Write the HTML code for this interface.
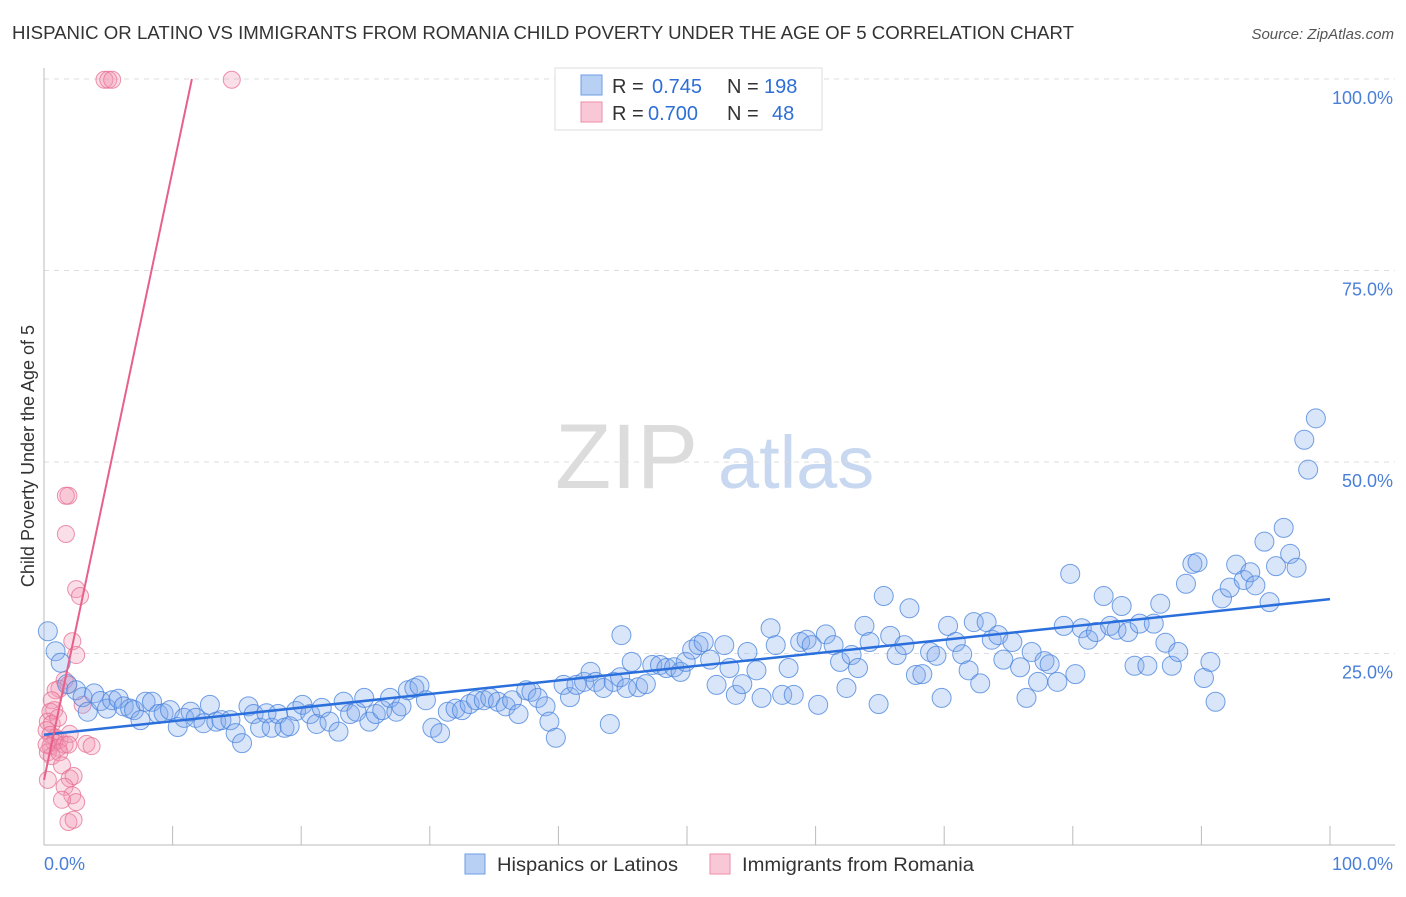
<!DOCTYPE html>
<html><head><meta charset="utf-8">
<style>
body{margin:0;background:#fff;font-family:"Liberation Sans",sans-serif;}
svg text{font-family:"Liberation Sans",sans-serif;}
</style></head>
<body>
<svg id="chart" width="1406" height="892" xmlns="http://www.w3.org/2000/svg">
<text x="12" y="39" font-size="18" fill="#333" textLength="1062" lengthAdjust="spacingAndGlyphs">HISPANIC OR LATINO VS IMMIGRANTS FROM ROMANIA CHILD POVERTY UNDER THE AGE OF 5 CORRELATION CHART</text>
<text x="1394" y="39" font-size="15" fill="#555" font-style="italic" text-anchor="end">Source: ZipAtlas.com</text>
<g>
<text x="555" y="488" font-size="92" fill="#dcdcdc" font-family="Liberation Serif, serif">ZIP</text>
<text x="718" y="488" font-size="74" fill="#c8d8f0">atlas</text>
</g>
<g id="grid"></g>
<g id="axes"></g>
<g id="pts"></g>
<g id="lines"></g>
<text transform="translate(34,456) rotate(-90)" font-size="18" fill="#333" text-anchor="middle">Child Poverty Under the Age of 5</text>
<g>
<rect x="555" y="68" width="267" height="62" fill="#fff" stroke="#ddd"/>
<rect x="581" y="75" width="21" height="20" fill="#b8d0f4" stroke="#6e9ee6"/>
<rect x="581" y="102" width="21" height="20" fill="#f9c8d6" stroke="#ee8eab"/>
<text x="612" y="93" font-size="20" fill="#333">R = </text><text x="652" y="93" font-size="20" fill="#2d6fd6">0.745</text>
<text x="727" y="93" font-size="20" fill="#333">N = </text><text x="764" y="93" font-size="20" fill="#2d6fd6">198</text>
<text x="612" y="120" font-size="20" fill="#333">R = </text><text x="648" y="120" font-size="20" fill="#2d6fd6">0.700</text>
<text x="727" y="120" font-size="20" fill="#333">N = </text><text x="772" y="120" font-size="20" fill="#2d6fd6">48</text>
</g>
<g>
<rect x="465" y="854" width="20" height="20" fill="#b8d0f4" stroke="#6e9ee6"/>
<text x="497" y="871" font-size="19" fill="#333" textLength="181" lengthAdjust="spacingAndGlyphs">Hispanics or Latinos</text>
<rect x="710" y="854" width="20" height="20" fill="#f9c8d6" stroke="#ee8eab"/>
<text x="742" y="871" font-size="19" fill="#333" textLength="232" lengthAdjust="spacingAndGlyphs">Immigrants from Romania</text>
</g>
</svg>
<script>
const yTicks=[25,50,75,100];
const yTickLabels=["25.0%","50.0%","75.0%","100.0%"];
const xTicks=[0,10,20,30,40,50,60,70,80,90,100];
const blueX=[0.3,0.9,1.3,1.8,2.5,3.0,3.4,3.9,4.4,4.9,5.3,5.8,6.2,6.7,7.0,7.5,7.9,8.4,8.9,9.3,9.8,10.4,10.9,11.4,11.8,12.4,12.9,13.4,13.8,14.5,14.9,15.4,15.9,16.3,16.8,17.3,17.7,18.2,18.7,19.1,19.6,20.1,20.7,21.2,21.6,22.2,22.9,23.3,23.8,24.3,24.9,25.3,25.8,26.3,26.9,27.4,27.8,28.3,28.8,29.2,29.7,30.2,30.8,31.4,32.0,32.5,33.1,33.6,34.2,34.7,35.3,35.9,36.4,36.9,37.5,37.9,38.4,39.0,39.3,39.8,40.4,40.9,41.4,42.0,42.5,42.9,43.5,44.0,44.3,44.8,45.3,45.7,44.9,46.2,46.8,47.3,47.9,48.4,49.0,49.5,49.9,50.4,50.9,51.3,51.8,52.3,52.9,53.3,53.8,54.3,54.7,55.4,55.8,56.5,56.9,57.4,57.9,58.3,58.8,59.3,59.7,60.2,60.8,61.4,61.9,62.4,62.8,63.3,63.8,64.2,64.9,65.3,65.8,66.3,66.9,67.3,67.8,68.3,68.9,69.4,69.8,70.3,70.9,71.4,71.9,72.3,72.8,73.3,73.7,74.2,74.6,75.3,75.9,76.4,76.8,77.3,77.8,78.2,78.8,79.3,79.8,80.2,80.7,81.2,81.8,82.4,82.9,83.4,83.8,84.3,84.8,85.2,85.8,86.3,86.8,87.2,87.7,88.2,88.8,89.3,89.7,90.2,90.7,91.1,91.6,92.2,92.7,93.3,93.8,94.2,94.9,95.3,95.8,96.4,96.9,97.4,98.0,98.3,98.9];
const blueY=[27.9,25.3,23.8,21.0,20.2,19.3,17.4,19.8,18.8,17.8,18.9,19.1,18.1,17.8,17.6,16.3,18.7,18.7,17.1,17.2,17.6,15.4,16.6,17.4,16.6,15.9,18.3,16.1,16.3,16.3,14.6,13.3,18.1,17.1,15.3,17.2,15.3,17.1,15.3,15.5,17.5,18.3,17.1,15.8,17.9,16.1,14.8,18.7,17.1,17.4,19.2,16.1,17.1,17.6,19.2,17.4,18.1,20.2,20.5,20.8,18.9,15.3,14.6,17.4,17.8,17.6,18.4,18.9,18.9,19.2,18.7,18.1,18.9,17.1,20.2,20.0,19.2,18.1,16.1,14.0,20.9,19.3,20.9,21.3,22.6,21.3,20.5,15.8,21.3,21.9,20.5,23.9,27.4,20.6,21.0,23.5,23.5,23.1,23.2,22.6,23.9,25.5,26.1,26.5,24.2,20.9,26.1,23.1,19.6,21.0,25.2,22.8,19.2,28.3,26.1,19.6,23.1,19.6,26.5,26.8,26.1,18.3,27.5,26.1,23.9,20.5,24.8,23.1,28.6,26.5,18.4,32.5,27.3,24.8,26.1,30.9,22.2,22.3,25.2,24.7,19.2,28.6,26.5,24.9,22.8,29.1,21.1,29.1,26.8,27.4,24.2,26.5,23.2,19.2,25.2,21.3,24.0,23.6,21.3,28.6,35.4,22.3,28.3,26.8,27.8,32.5,28.6,28.1,31.2,27.8,23.4,28.9,23.4,28.9,31.5,26.4,23.4,25.2,34.1,36.7,36.9,21.8,23.9,18.7,32.2,33.6,36.6,34.6,35.6,33.9,39.6,31.7,36.4,41.4,38.0,36.2,52.9,49.0,55.7];
const pinkX=[4.7,5.0,5.3,14.6,1.9,1.7,1.7,2.5,2.8,2.2,2.5,1.6,1.9,1.2,0.9,0.6,0.5,0.8,0.3,0.6,0.2,0.5,0.9,1.2,0.8,0.5,1.1,1.6,0.3,0.6,1.2,2.0,1.9,3.3,3.7,1.4,2.0,2.3,1.6,2.2,2.5,1.4,1.9,2.3,0.3,1.1,3.0,0.2];
const pinkY=[99.9,99.9,99.9,99.9,45.6,45.6,40.6,33.4,32.5,26.6,24.8,21.5,20.9,20.4,20.2,18.9,17.4,17.6,16.1,15.8,15.0,14.4,14.0,13.7,13.4,12.9,12.7,13.1,12.1,11.6,12.1,14.5,13.1,13.2,12.9,10.4,8.7,9.0,7.6,6.5,5.6,5.9,3.0,3.3,8.5,16.6,18.3,13.1];
const blueFit=[14.4,32.1];   // y at x=0, y at x=100
const pinkFit=[8.5,11.5];    // y at x=0, x where y=100
const NS="http://www.w3.org/2000/svg";
const X0=44,X1=1330,Y0=845,Y100=79;
const sx=v=>X0+(X1-X0)*v/100;
const sy=v=>Y0-(Y0-Y100)*v/100;
function mk(tag,attrs,parent){const e=document.createElementNS(NS,tag);for(const k in attrs)e.setAttribute(k,attrs[k]);parent.appendChild(e);return e;}
const grid=document.getElementById('grid'),axes=document.getElementById('axes'),pts=document.getElementById('pts'),lines=document.getElementById('lines');
yTicks.forEach((t,i)=>{
 const l=mk('line',{x1:X0,x2:1395,y1:sy(t),y2:sy(t),stroke:'#ddd','stroke-dasharray':'5,5'},grid);
 
 
 const tx=mk('text',{x:1393,y:sy(t)+25,'font-size':18,fill:'#4a7fd8','text-anchor':'end'},grid);
 tx.textContent=yTickLabels[i];
 
 
});
const ya=mk('line',{x1:X0,x2:X0,y1:68,y2:Y0,stroke:'#bbb'},axes);


const xa=mk('line',{x1:X0,x2:1395,y1:Y0,y2:Y0,stroke:'#bbb'},axes);


xTicks.slice(1).forEach(t=>{
 const l=mk('line',{x1:sx(t),x2:sx(t),y1:826,y2:Y0,stroke:'#bbb'},axes);
 
 
});
const xl0=mk('text',{x:44,y:870,'font-size':18,fill:'#4a7fd8'},axes);xl0.textContent='0.0%';


const xl1=mk('text',{x:1393,y:870,'font-size':18,fill:'#4a7fd8','text-anchor':'end'},axes);xl1.textContent='100.0%';


pinkX.forEach((v,i)=>{
 const c=mk('circle',{cx:sx(v),cy:sy(pinkY[i]),r:8.5,fill:'rgba(243,150,178,0.3)',stroke:'rgba(230,110,145,0.75)','stroke-width':1},pts);
 
 
});
blueX.forEach((v,i)=>{
 const c=mk('circle',{cx:sx(v),cy:sy(blueY[i]),r:9.5,fill:'rgba(130,170,235,0.3)',stroke:'rgba(70,130,220,0.75)','stroke-width':1},pts);
 
 
});
const bl=mk('line',{x1:sx(0),y1:sy(blueFit[0]),x2:sx(100),y2:sy(blueFit[1]),stroke:'#2a6fdb','stroke-width':2.5},lines);


const pl=mk('line',{x1:sx(0),y1:sy(pinkFit[0]),x2:sx(pinkFit[1]),y2:sy(100),stroke:'#e8608a','stroke-width':2},lines);


</script>
</body></html>
